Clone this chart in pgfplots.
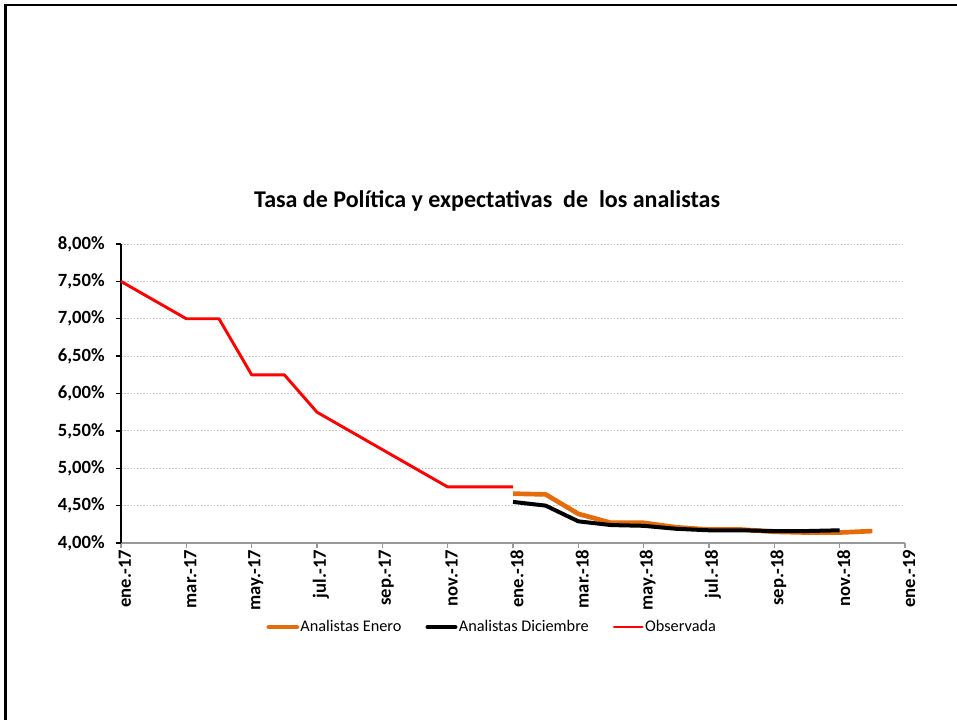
\documentclass[border=0pt]{standalone}
\usepackage{pgfplots}
\pgfplotsset{compat=1.18}
\usepackage{fontspec}
\setmainfont{Carlito}

\definecolor{orangeEx}{RGB}{228,108,10}
\definecolor{redEx}{RGB}{255,0,0}

\begin{document}
\begin{tikzpicture}
% outer frame (page area), 1px = 0.75pt
\path[use as bounding box] (-90.75pt,-132pt) rectangle (627pt,407.25pt);
\draw[line width=2.2pt, black] (-86.5pt,-140pt) -- (-86.5pt,403.5pt) -- (640pt,403.5pt);
\begin{axis}[
    scale only axis,
    width=588pt, height=224.25pt,
    at={(0,0)}, anchor=origin,
    xmin=0, xmax=24,
    ymin=4, ymax=8,
    axis lines*=left,
    x axis line style={gray!80, line width=0.8pt},
    y axis line style={black, line width=1.4pt},
    tick align=outside,
    major tick length=4pt,
    xtick={0,2,...,24},
    xticklabels={ene.-17,mar.-17,may.-17,jul.-17,sep.-17,nov.-17,ene.-18,mar.-18,may.-18,jul.-18,sep.-18,nov.-18,ene.-19},
    xtick style={gray!80, line width=0.8pt},
    xticklabel style={rotate=90, anchor=east, font=\fontsize{14}{16}\bfseries, inner sep=1pt, yshift=-3pt},
    ytick={4,4.5,...,8},
    yticklabels={{4,00\%},{4,50\%},{5,00\%},{5,50\%},{6,00\%},{6,50\%},{7,00\%},{7,50\%},{8,00\%}},
    ytick style={black, line width=1pt},
    yticklabel style={font=\fontsize{14}{16}\bfseries, inner sep=1pt, xshift=-7pt},
    ymajorgrids,
    major grid style={gray!45, dash pattern=on 1.2pt off 1.2pt, line width=0.6pt},
    title={Tasa de Política y expectativas\ \ de\ \ los analistas},
    title style={at={(axis description cs:0.467,1)}, anchor=center, yshift=26.5pt, font=\fontsize{18}{20}\bfseries},
    legend style={at={(axis description cs:0.473,-0.281)}, anchor=center, draw=none, fill=none,
        legend columns=-1, font=\fontsize{12.2}{14}\selectfont,
        nodes={inner sep=1pt},
        /tikz/every even column/.append style={column sep=17pt}, inner sep=0pt},
    legend image code/.code={\draw[#1, line cap=round] (0pt,0pt) -- (21pt,0pt);},
    clip=false,
]
\addplot[orangeEx, line width=3.5pt, line join=round] coordinates {
(12,4.66)(13,4.65)(14,4.39)(15,4.27)(16,4.27)(17,4.21)(18,4.18)(19,4.18)(20,4.15)(21,4.14)(22,4.14)(23,4.16)};
\addplot[black, line width=3pt, line join=round] coordinates {
(12,4.55)(13,4.50)(14,4.29)(15,4.24)(16,4.23)(17,4.19)(18,4.17)(19,4.17)(20,4.16)(21,4.16)(22,4.17)};
\addplot[redEx, line width=2.2pt, line join=round] coordinates {
(0,7.50)(1,7.25)(2,7.00)(3,7.00)(4,6.25)(5,6.25)(6,5.75)(7,5.50)(8,5.25)(9,5.00)(10,4.75)(11,4.75)(12,4.75)};
\legend{Analistas Enero,Analistas Diciembre,Observada}
\end{axis}
\end{tikzpicture}
\end{document}
